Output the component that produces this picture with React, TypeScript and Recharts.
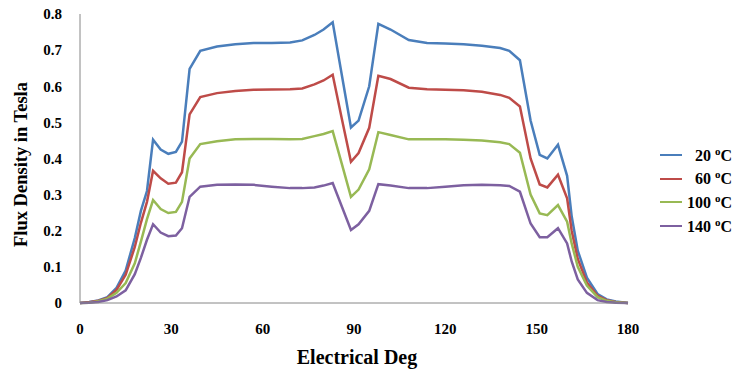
import { LineChart, Line, XAxis, YAxis, Legend, Label } from 'recharts';

const degrees = [0, 3, 6, 9, 12, 15, 18, 20, 22, 24, 26.5, 29, 31.5, 33.5, 36, 39.5, 45, 51, 57, 63, 69, 73, 77, 80, 83, 86, 89, 91.5, 95, 98, 102, 108, 114, 120, 126, 132, 138, 141, 144.5, 148, 151, 153.5, 157, 160, 161.5, 163.5, 166.5, 170, 173, 176, 180];

const t20 = [0, 0.003, 0.007, 0.016, 0.042, 0.09, 0.18, 0.255, 0.31, 0.452, 0.425, 0.413, 0.418, 0.447, 0.648, 0.698, 0.71, 0.716, 0.72, 0.72, 0.721, 0.727, 0.742, 0.757, 0.777, 0.631, 0.486, 0.505, 0.6, 0.773, 0.757, 0.728, 0.72, 0.718, 0.716, 0.712, 0.706, 0.698, 0.672, 0.505, 0.41, 0.4, 0.438, 0.352, 0.24, 0.145, 0.07, 0.025, 0.01, 0.004, 0];
const t60 = [0, 0.002, 0.006, 0.014, 0.036, 0.078, 0.155, 0.222, 0.28, 0.366, 0.345, 0.33, 0.333, 0.362, 0.522, 0.57, 0.581, 0.587, 0.59, 0.591, 0.592, 0.594, 0.605, 0.616, 0.632, 0.51, 0.391, 0.415, 0.485, 0.629, 0.62, 0.596, 0.592, 0.59, 0.589, 0.585, 0.576, 0.568, 0.544, 0.4, 0.328, 0.32, 0.355, 0.29, 0.2, 0.122, 0.057, 0.02, 0.008, 0.003, 0];
const t100 = [0, 0.001, 0.005, 0.012, 0.028, 0.055, 0.11, 0.17, 0.232, 0.285, 0.26, 0.249, 0.252, 0.28, 0.4, 0.44, 0.448, 0.453, 0.454, 0.454, 0.453, 0.454, 0.462, 0.468, 0.476, 0.385, 0.294, 0.314, 0.37, 0.473, 0.465, 0.453, 0.453, 0.453, 0.452, 0.45, 0.445, 0.44, 0.416, 0.3, 0.248, 0.243, 0.271, 0.225, 0.165, 0.1, 0.048, 0.016, 0.006, 0.002, 0];
const t140 = [0, 0.001, 0.003, 0.008, 0.018, 0.035, 0.08, 0.125, 0.175, 0.218, 0.195, 0.185, 0.187, 0.207, 0.294, 0.322, 0.327, 0.328, 0.327, 0.322, 0.318, 0.318, 0.32, 0.325, 0.332, 0.267, 0.202, 0.218, 0.255, 0.329, 0.325, 0.318, 0.318, 0.322, 0.326, 0.327, 0.326, 0.324, 0.308, 0.22, 0.182, 0.182, 0.207, 0.165, 0.115, 0.065, 0.028, 0.008, 0.003, 0.001, 0];

const xTicks = [0, 30, 60, 90, 120, 150, 180];
const yTicks = [0, 0.1, 0.2, 0.3, 0.4, 0.5, 0.6, 0.7, 0.8];

const series = [
  { key: 't20', temp: '20', color: '#4a7ebb', values: t20 },
  { key: 't60', temp: '60', color: '#be4b48', values: t60 },
  { key: 't100', temp: '100', color: '#98b954', values: t100 },
  { key: 't140', temp: '140', color: '#7d60a0', values: t140 },
];

const data = degrees.map((d, i) => {
  const row: Record<string, number> = { deg: d };
  series.forEach(s => { row[s.key] = s.values[i]; });
  return row;
});

const font = '"Liberation Serif", "Times New Roman", serif';
const tickStyle = { fontFamily: font, fontSize: 15, fontWeight: 700, fill: '#000' };

function renderLegend() {
  return (
    <div style={{ fontFamily: font, fontWeight: 700, fontSize: 16, color: '#000' }}>
      {series.map(s => (
        <div key={s.key} style={{ display: 'flex', alignItems: 'center', height: 23.7 }}>
          <div style={{ width: 22, height: 0, borderTop: `2.5px solid ${s.color}` }} />
          <div style={{ width: 50, textAlign: 'right' }}>
            {s.temp} <sup style={{ fontSize: 11 }}>o</sup>C
          </div>
        </div>
      ))}
    </div>
  );
}

const XTitle = (props: any) => {
  const vb = props.viewBox;
  return (
    <text
      x={vb.x + vb.width / 2 + 3}
      y={357}
      textAnchor="middle"
      dominantBaseline="central"
      style={{ fontFamily: font, fontSize: 20, fontWeight: 700, fill: '#000' }}
    >
      Electrical Deg
    </text>
  );
};

const YTitle = (props: any) => {
  const vb = props.viewBox;
  const cy = vb.y + vb.height / 2 + 6;
  return (
    <text
      x={21}
      y={cy}
      transform={`rotate(-90, 21, ${cy})`}
      textAnchor="middle"
      dominantBaseline="central"
      style={{ fontFamily: font, fontSize: 18.5, fontWeight: 700, fill: '#000' }}
    >
      Flux Density in Tesla
    </text>
  );
};

export default function App() {
  return (
    <div style={{ position: 'absolute', left: 0, top: 0, background: '#fff' }}>
      <LineChart width={737} height={371} data={data} margin={{ top: 14, right: 109, bottom: 18, left: 20 }}>
        <XAxis
          dataKey="deg"
          type="number"
          domain={[0, 180]}
          ticks={xTicks}
          tickLine={false}
          tickSize={8}
          tickMargin={12}
          axisLine={{ stroke: '#868686' }}
          tick={tickStyle}
          height={50}
        >
          <Label content={XTitle} />
        </XAxis>
        <YAxis
          type="number"
          domain={[0, 0.8]}
          ticks={yTicks}
          tickLine={false}
          tickSize={8}
          tickMargin={10}
          axisLine={{ stroke: '#868686' }}
          tick={tickStyle}
          width={60}
        >
          <Label content={YTitle} />
        </YAxis>
        <Legend
          layout="vertical"
          align="center"
          verticalAlign="middle"
          content={renderLegend}
          wrapperStyle={{ left: 660, top: 143, width: 76 }}
        />
        {series.map(s => (
          <Line
            key={s.key}
            dataKey={s.key}
            stroke={s.color}
            strokeWidth={2.5}
            dot={false}
            activeDot={false}
            isAnimationActive={false}
          />
        ))}
      </LineChart>
    </div>
  );
}
